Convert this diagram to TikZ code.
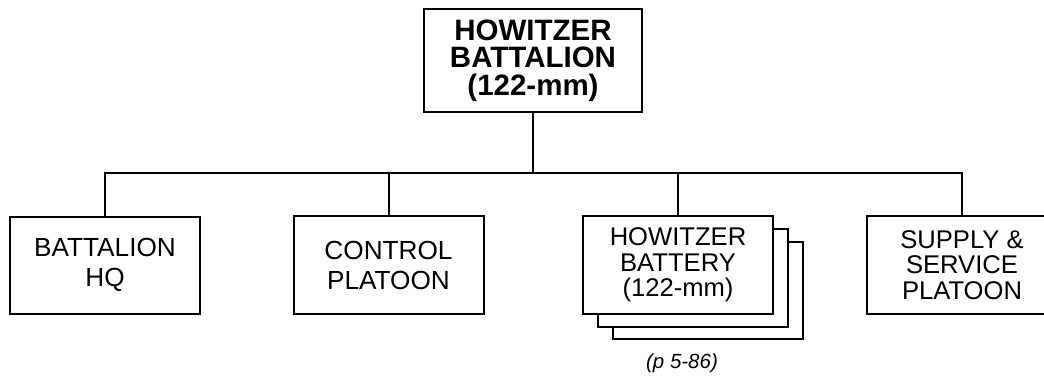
\documentclass[tikz,border=0pt]{standalone}
\usepackage{fontspec}
\setmainfont{Liberation Sans}
\begin{document}
\begin{tikzpicture}[x=1pt,y=-1pt,
  ln/.style={line width=2pt},
  unitbox/.style={draw,ln,fill=white,rectangle,inner sep=0pt,minimum width=190pt,minimum height=97.5pt,align=center,font=\fontsize{26.2}{30}\selectfont},
  unitbox3/.style={unitbox,font=\fontsize{25.6}{25.5}\selectfont},
  shadowbox/.style={draw,ln,fill=white,rectangle,inner sep=0pt,minimum width=190pt,minimum height=97.5pt}
]
\clip (0,0) rectangle (1044,375);
\fill[white] (0,0) rectangle (1044,375);
\node[draw,ln,rectangle,inner sep=0pt,minimum width=218pt,minimum height=103pt,align=center,font=\bfseries\fontsize{29.5}{27.5}\selectfont] (top) at (533,60.5) {HOWITZER\\BATTALION\\(122-mm)};
\node[unitbox] (b1) at (105,265.25) {BATTALION\\HQ};
\node[unitbox] (b2) at (388.5,265) {CONTROL\\PLATOON};
\node[shadowbox] (b3c) at (707.5,290.25) {};
\node[shadowbox] (b3b) at (693,277.75) {};
\node[unitbox3] (b3) at (678,264.75) {HOWITZER\\BATTERY\\(122-mm)};
\node[unitbox3] (b4) at (962,264.75) {SUPPLY \&\\SERVICE\\PLATOON};
\node[font=\itshape\fontsize{20.5}{22}\selectfont,anchor=base] (ref) at (682,368) {(p 5-86)};
\coordinate (bus) at (533,172.5);
\draw[ln] (top.south) -- (bus);
\draw[ln] (b1.north) -- (b1.north |- bus) -- (b4.north |- bus) -- (b4.north);
\draw[ln] (b2.north) -- (b2.north |- bus);
\draw[ln] (b3.north) -- (b3.north |- bus);
\end{tikzpicture}
\end{document}
